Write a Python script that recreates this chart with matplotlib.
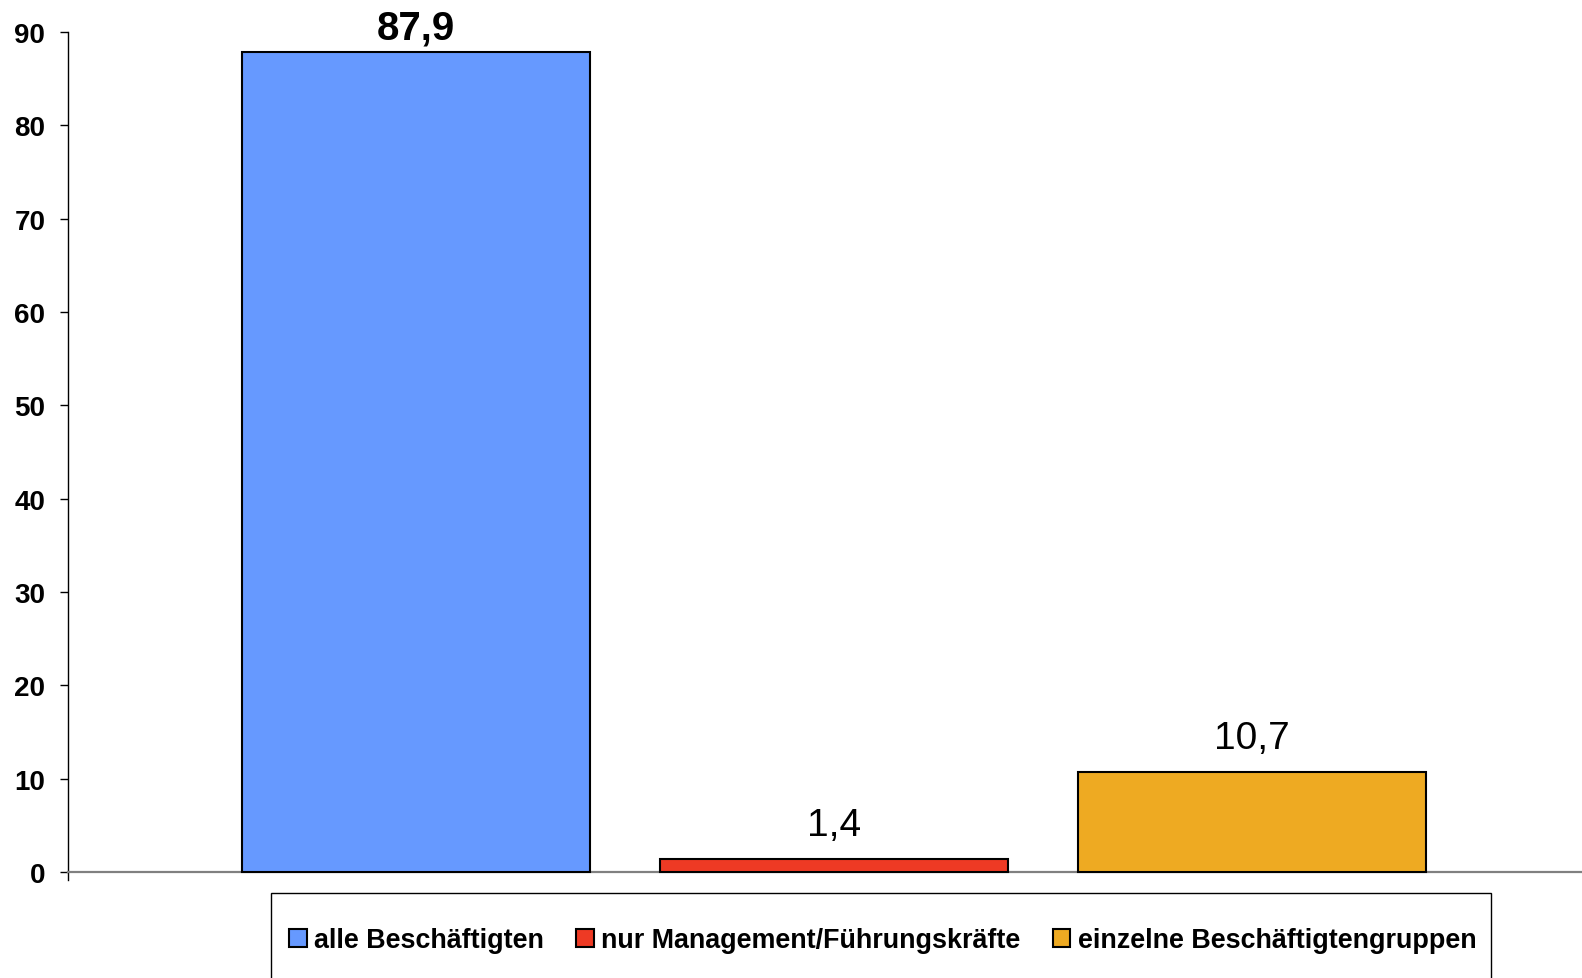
import matplotlib.pyplot as plt
from matplotlib.patches import Rectangle, Patch

plt.rcParams['font.family'] = ['Liberation Sans', 'DejaVu Sans']

series = ['alle Beschäftigten', 'nur Management/Führungskräfte', 'einzelne Beschäftigtengruppen']
values = [87.9, 1.4, 10.7]
labels = ['87,9', '1,4', '10,7']
colors = ['#6699FF', '#EE3A24', '#EEAA22']
y_ticks = [0, 10, 20, 30, 40, 50, 60, 70, 80, 90]

W, H = 1582, 979
fig = plt.figure(figsize=(W / 100, H / 100), dpi=100)
ax = fig.add_axes([68 / W, 1 - 880.5 / H, 1 - 68 / W, (880.5 - 33) / H])

x = list(range(len(values)))
bars = ax.bar(x, values, width=0.832, color=colors, edgecolor='black', linewidth=1.5, zorder=3)

for i, (b, lab) in enumerate(zip(bars, labels)):
    ax.annotate(lab, (b.get_x() + b.get_width() / 2, b.get_height()),
                xytext=(0, 3.5 if i == 0 else 11.5), textcoords='offset points',
                ha='center', va='bottom', fontsize=29 if i == 0 else 28,
                fontweight='bold' if i == 0 else 'normal')

ax.set_xlim(-0.8325, 2.789)
ax.set_ylim(-0.8, 90)
ax.set_yticks(y_ticks)
ax.set_yticklabels([str(t) for t in y_ticks], fontsize=20, fontweight='bold')
ax.tick_params(axis='y', length=5.8, width=1, pad=10.5, direction='out')
ax.set_xticks([])

ax.spines['top'].set_visible(False)
ax.spines['right'].set_visible(False)
ax.spines['bottom'].set_position(('data', 0))
ax.spines['bottom'].set_color('#808080')
ax.spines['bottom'].set_linewidth(1.6)
ax.spines['left'].set_linewidth(1.0)

handles = [Patch(facecolor=c, edgecolor='black', linewidth=1.5) for c in colors]
fig.legend(handles, series, loc='center left', bbox_to_anchor=(289 / W, 1 - 941 / H),
           ncol=3, frameon=False, borderpad=0, borderaxespad=0,
           handlelength=0.65, handleheight=0.65, handletextpad=0.28, columnspacing=1.2,
           prop={'size': 19.4, 'weight': 'bold'})
fig.add_artist(Rectangle((271 / W, -0.01), 1220 / W, 1 - 894 / H + 0.01,
                         transform=fig.transFigure, fill=False, edgecolor='black', linewidth=1))

fig.savefig('out.png', dpi=100)
